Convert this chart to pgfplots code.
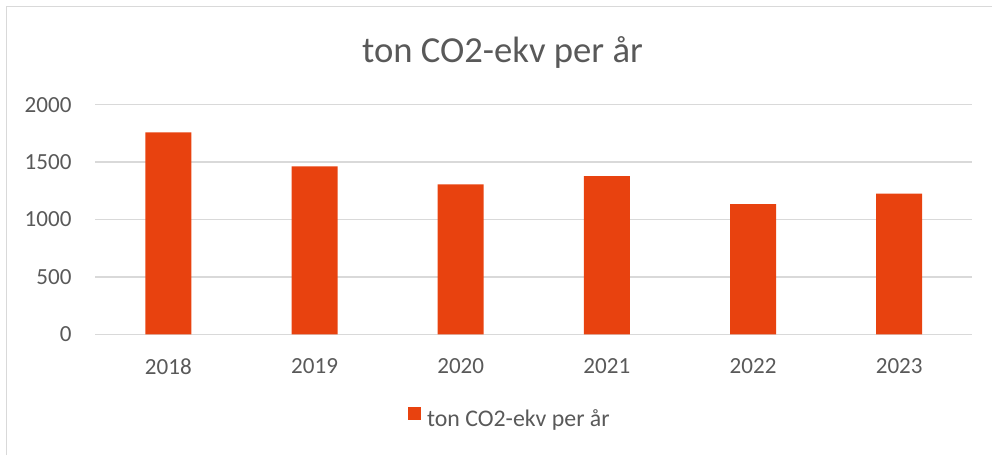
\documentclass[border=0pt]{standalone}
\usepackage{pgfplots}
\pgfplotsset{compat=1.18}
\usepackage{fontspec}
\setmainfont{Carlito}
\definecolor{barc}{HTML}{E8420F}
\definecolor{txt}{HTML}{595959}
\definecolor{grd}{HTML}{D9D9D9}
\begin{document}
\begin{tikzpicture}
\begin{scope}[shift={(-95.3*0.39pt,334.3*0.39pt)}, x=0.39pt, y=-0.39pt]
 \useasboundingbox (0,0) rectangle (992,455);
 \draw[grd, line width=0.45pt] (6.5,455) -- (6.5,6.5) -- (992,6.5);
 \node[anchor=base, text=txt, font=\fontsize{14.3}{17}\selectfont, inner sep=0pt] at (502.5,62.7) {ton CO2-ekv per år};
\end{scope}
\begin{axis}[
 at={(0pt,0pt)}, anchor=south west,
 scale only axis, width=342.03pt, height=89.54pt,
 xmin=-0.5, xmax=5.5, ymin=0, ymax=2000,
 ytick={0,500,1000,1500,2000}, xtick=data,
 xticklabels={2018,2019,2020,2021,2022,2023},
 axis line style={draw=none}, major tick length=0pt,
 ymajorgrids, grid style={grd, line width=0.6pt},
 tick label style={font=\fontsize{9}{10.8}\selectfont, text=txt, inner sep=0pt},
 yticklabel style={anchor=east, xshift=-9.1pt},
 xticklabel style={anchor=north, yshift=-9.24pt},
 /pgf/number format/assume math mode=true,
 /pgf/number format/1000 sep={},
 scaled y ticks=false,
 ybar, bar width=17.94pt,
 legend style={at={(0.3558,-0.367)}, anchor=west, draw=none, fill=none, inner sep=0pt,
   font=\fontsize{9.3}{11}\selectfont, text=txt, column sep=2.3pt,
   nodes={inner sep=0pt}},
 legend image code/.code={\fill[barc] (0pt,0pt) rectangle (5.2pt,5.2pt);},
]
\addplot[fill=barc, draw=none] coordinates {(0,1760) (1,1463) (2,1307) (3,1379) (4,1135) (5,1225)};
\addlegendentry{ton CO2-ekv per år}
\end{axis}
\end{tikzpicture}
\end{document}
